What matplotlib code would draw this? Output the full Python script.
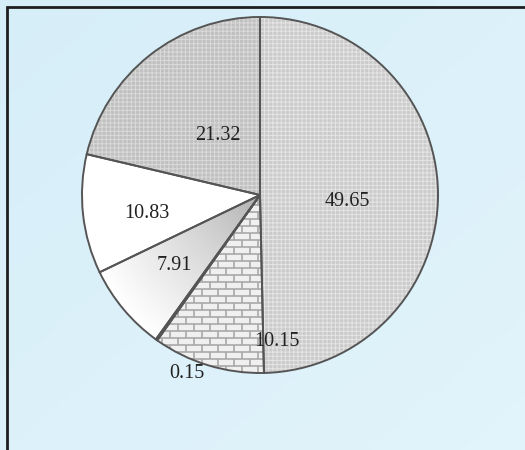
import numpy as np
import matplotlib.pyplot as plt
from matplotlib.patches import Wedge, Rectangle
from matplotlib.collections import LineCollection

# slices, clockwise from 12 o'clock
values = [49.65, 10.15, 0.15, 7.91, 10.83, 21.32]
labels = ['49.65', '10.15', '0.15', '7.91', '10.83', '21.32']
face_colors = ['#cbcbcb', '#f0f0f0', '#d8d8d8', '#ffffff', '#ffffff', '#c0c0c0']
hatches = ['++++', None, None, None, None, '++++']
hatch_colors = ['#e4e4e4', None, None, None, None, '#dadada']
# label centres in picture pixels (x, y from top)
label_xy = [(347, 201), (277, 341), (187, 373), (174, 265), (147, 214), (218, 136)]

W, H = 525, 450
cx, cy, R = 260, H - 195, 178

plt.rcParams['hatch.linewidth'] = 0.7

fig = plt.figure(figsize=(5.25, 4.5), dpi=100)
ax = fig.add_axes([0, 0, 1, 1])

# light blue background
gx, gy = np.meshgrid(np.linspace(0, 1, 200), np.linspace(0, 1, 200))
t = (gx + gy) / 2
c0 = np.array([0.84, 0.935, 0.975])
c1 = np.array([0.885, 0.955, 0.985])
ax.imshow(c0 + (c1 - c0) * t[..., None], extent=(0, W, 0, H), zorder=0)

wedges, _ = ax.pie(values, colors=face_colors, startangle=90, counterclock=False,
                   center=(cx, cy), radius=R,
                   wedgeprops=dict(edgecolor='none', linewidth=0, zorder=1))

# textures
for w, h, hc in zip(wedges, hatches, hatch_colors):
    if h:
        ov = Wedge((cx, cy), R, w.theta1, w.theta2, facecolor='none',
                   edgecolor=hc, linewidth=0, hatch=h, zorder=2)
        ax.add_patch(ov)

# brick pattern for the 10.15 slice
segs = []
row = 7
bw = 16
for i, y in enumerate(np.arange(cy - R, cy + 5, row)):
    segs.append([(cx - R, y), (cx + 5, y)])
    off = (bw / 2) * (i % 2)
    for x in np.arange(cx - R + off, cx + 5, bw):
        segs.append([(x, y), (x, y + row)])
bricks = LineCollection(segs, colors='#a8a8a8', linewidths=1.2, zorder=2)
ax.add_collection(bricks)
bricks.set_clip_path(wedges[1])

# shaded 7.91 slice, darker towards centre
gxx, gyy = np.meshgrid(np.linspace(cx - R, cx + R, 300), np.linspace(cy + R, cy - R, 300))
d = np.clip(np.hypot(gxx - cx, gyy - cy) / R, 0, 1)
shade = 0.68 + 0.32 * d ** 0.8
im = ax.imshow(shade, cmap='gray', vmin=0, vmax=1,
               extent=(cx - R, cx + R, cy - R, cy + R), zorder=2)
im.set_clip_path(wedges[3])

# outlines
for w in wedges:
    ax.add_patch(Wedge((cx, cy), R, w.theta1, w.theta2, facecolor='none',
                       edgecolor='#555555', linewidth=1.4, zorder=3))

for lab, (x, y) in zip(labels, label_xy):
    ax.text(x, H - y, lab, ha='center', va='center', fontsize=14.5,
            family='Liberation Serif', color='#222222', zorder=4)

# frame
ax.add_patch(Rectangle((7, -20), W + 20, H - 7 + 20, facecolor='none',
                       edgecolor='#1e1e1e', linewidth=2, zorder=5))

ax.set_xlim(0, W)
ax.set_ylim(0, H)
ax.set_aspect('auto')
ax.axis('off')

plt.savefig('out.png', dpi=100)
